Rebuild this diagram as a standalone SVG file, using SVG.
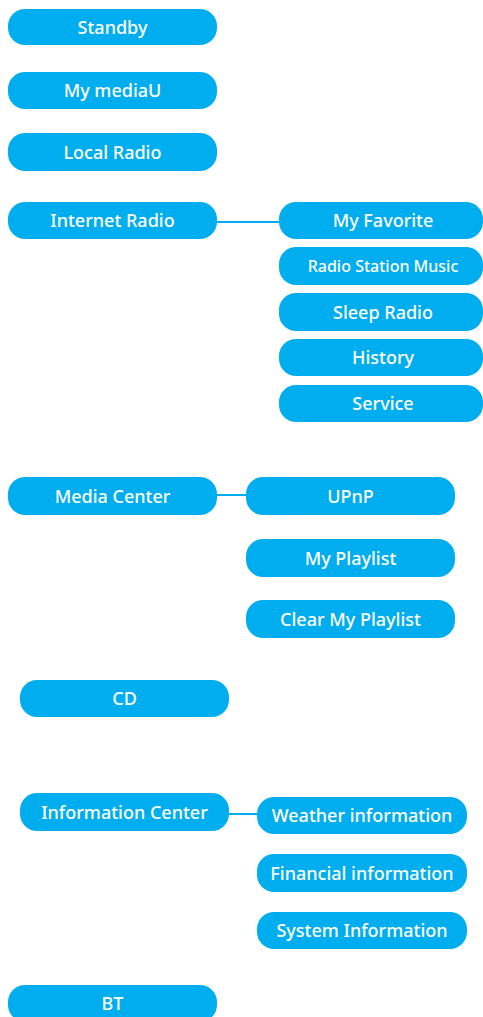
<svg xmlns="http://www.w3.org/2000/svg" width="483" height="1017" viewBox="0 0 483 1017">
<style>
.b{fill:#00AEEF}
.t{fill:#fff;font-family:"Noto Sans","Open Sans",sans-serif;font-weight:500;font-size:18px;text-anchor:middle}
.s{font-size:16px}
.c{stroke:#00AEEF;stroke-width:2;fill:none}
</style>
<rect width="483" height="1017" fill="#fff"/>
<g id="connectors">
<line class="c" x1="215" y1="222" x2="281" y2="222"/>
<line class="c" x1="215" y1="495" x2="248" y2="495"/>
<line class="c" x1="227" y1="814" x2="259" y2="814"/>
</g>
<g id="standby"><rect class="b" x="8" y="9" width="209" height="36" rx="17"/><text class="t" x="112.5" y="33.5">Standby</text></g>
<g id="mymediau"><rect class="b" x="8" y="72" width="209" height="37" rx="17"/><text class="t" x="112.5" y="97">My mediaU</text></g>
<g id="localradio"><rect class="b" x="8" y="133" width="209" height="38" rx="17"/><text class="t" x="112.5" y="158.5">Local Radio</text></g>
<g id="internetradio"><rect class="b" x="8" y="202" width="209" height="37" rx="17"/><text class="t" x="112.5" y="227">Internet Radio</text></g>
<g id="myfavorite"><rect class="b" x="279" y="202" width="204" height="37" rx="17"/><text class="t" x="383" y="227">My Favorite</text></g>
<g id="radiostationmusic"><rect class="b" x="279" y="247" width="204" height="38" rx="17"/><text class="t s" x="383" y="271.5">Radio Station Music</text></g>
<g id="sleepradio"><rect class="b" x="279" y="293" width="204" height="38" rx="17"/><text class="t" x="383" y="318.5">Sleep Radio</text></g>
<g id="history"><rect class="b" x="279" y="339" width="204" height="37" rx="17"/><text class="t" x="383" y="364">History</text></g>
<g id="service"><rect class="b" x="279" y="385" width="204" height="37" rx="17"/><text class="t" x="383" y="410">Service</text></g>
<g id="mediacenter"><rect class="b" x="8" y="477" width="209" height="38" rx="17"/><text class="t" x="112.5" y="502.5">Media Center</text></g>
<g id="upnp"><rect class="b" x="246" y="477" width="209" height="38" rx="17"/><text class="t" x="350.5" y="502.5">UPnP</text></g>
<g id="myplaylist"><rect class="b" x="246" y="539" width="209" height="38" rx="17"/><text class="t" x="350.5" y="564.5">My Playlist</text></g>
<g id="clearmyplaylist"><rect class="b" x="246" y="600" width="209" height="38" rx="17"/><text class="t" x="350.5" y="625.5">Clear My Playlist</text></g>
<g id="cd"><rect class="b" x="20" y="680" width="209" height="37" rx="17"/><text class="t" x="124.5" y="705">CD</text></g>
<g id="informationcenter"><rect class="b" x="20" y="793" width="209" height="38" rx="17"/><text class="t" x="124.5" y="818.5">Information Center</text></g>
<g id="weatherinformation"><rect class="b" x="257" y="797" width="210" height="37" rx="17"/><text class="t" x="362" y="822">Weather information</text></g>
<g id="financialinformation"><rect class="b" x="257" y="854" width="210" height="38" rx="17"/><text class="t" x="362" y="879.5">Financial information</text></g>
<g id="systeminformation"><rect class="b" x="257" y="912" width="210" height="37" rx="17"/><text class="t" x="362" y="937">System Information</text></g>
<g id="bt"><rect class="b" x="8" y="985" width="209" height="37" rx="17"/><text class="t" x="112.5" y="1010">BT</text></g>
</svg>
